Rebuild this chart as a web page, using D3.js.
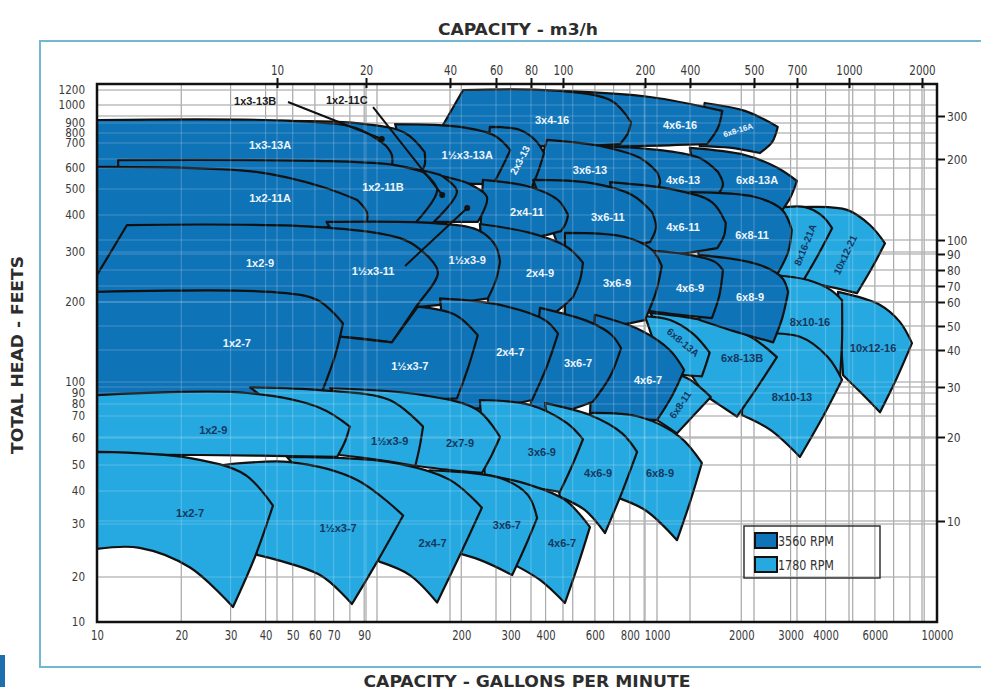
<!DOCTYPE html>
<html>
<head>
<meta charset="utf-8">
<script src="https://cdn.jsdelivr.net/npm/d3@7"></script>
<style>
  body { margin: 0; background: #fff; }
</style>
</head>
<body>
<div id="chart"></div>
<script>
// ---------- data ----------
const gpmTicks = [10, 20, 30, 40, 50, 60, 70, 90, 200, 300, 400, 600, 800, 1000, 2000, 3000, 4000, 6000, 10000];
const m3hTicks = [10, 20, 40, 60, 80, 100, 200, 400, 500, 700, 1000, 2000];
const feetTicks = [10, 20, 30, 40, 50, 60, 70, 80, 90, 100, 200, 300, 400, 500, 600, 700, 800, 900, 1000, 1200];
const meterTicks = [10, 20, 30, 40, 50, 60, 70, 80, 90, 100, 200, 300];
const speeds = [3560, 1780];

// pump models in drawing order (back to front)
const models = [
  "10x12-21", "8x16-21A", "10x12-16", "8x10-16", "8x10-13", "6x8-13B", "6x8-13A", "6x8-11",
  "6x8-16A", "4x6-16", "3x4-16",
  "6x8-13A", "4x6-13", "3x6-13", "2x3-13", "1½x3-13A", "1x3-13B", "1x3-13A",
  "6x8-11", "4x6-11", "3x6-11", "2x4-11", "1½x3-11", "1x2-11C", "1x2-11B", "1x2-11A",
  "6x8-9", "4x6-9", "3x6-9", "2x4-9", "1½x3-9", "1x2-9",
  "4x6-7", "3x6-7", "2x4-7", "1½x3-7", "1x2-7",
  "6x8-9", "4x6-9", "3x6-9", "2x7-9", "1½x3-9", "1x2-9",
  "4x6-7", "3x6-7", "2x4-7", "1½x3-7", "1x2-7"
];
const rpm = [
  1780, 1780, 1780, 1780, 1780, 1780, 1780, 1780,
  3560, 3560, 3560,
  3560, 3560, 3560, 3560, 3560, 3560, 3560,
  3560, 3560, 3560, 3560, 3560, 3560, 3560, 3560,
  3560, 3560, 3560, 3560, 3560, 3560,
  3560, 3560, 3560, 3560, 3560,
  1780, 1780, 1780, 1780, 1780, 1780,
  1780, 1780, 1780, 1780, 1780
];

// outlines: [top edge, right edge, bottom edge, optional left edge], points as [gpm, feet]
const outlines = [
  [[[3240,428],[4770,418],[5760,370],[6520,321]], [[6520,321],[5860,264],[5180,215]], [[5180,215],[4150,226],[3380,235]]],
  [[[2700,425],[3380,428],[3890,397],[4220,361]], [[4220,361],[3760,293],[3320,237]], [[3320,237],[2990,243],[2680,249]]],
  [[[4430,217],[6260,195],[7380,168],[8140,140]], [[8140,140],[7200,104],[6260,73]], [[6260,73],[5310,91],[4620,106]]],
  [[[2575,249],[3460,239],[4150,221],[4580,203]], [[4580,203],[4580,144],[4500,102]], [[4500,102],[3240,121],[2540,138]]],
  [[[2060,152],[3240,148],[4080,124],[4580,102]], [[4580,102],[3890,69],[3240,52.8]], [[3240,52.8],[2540,63.5],[2010,70.8]]],
  [[[944,182],[1570,168],[2180,147],[2680,124]], [[2680,124],[2280,95],[1930,69.7]], [[1930,69.7],[1670,79.3],[1480,88]]],
  [[[906,177],[1113,171],[1343,152],[1542,129]], [[1542,129],[1494,116],[1446,105]], [[1446,105],[1268,106],[1062,109]]],
  [[[1113,109],[1312,102],[1557,86.2]], [[1557,86.2],[1355,70.8],[1179,62]], [[1179,62],[1086,65],[1000,68]]],

  [[[1480,1025],[2060,966],[2700,860]], [[2700,860],[2580,710],[2330,658]], [[2330,658],[1820,680],[1420,687]]],
  [[[450,1186],[944,1102],[1710,966]], [[1710,966],[1650,848],[1510,696]], [[1510,696],[870,687],[450,687]]],
  [[[203,1200],[450,1186],[690,1050],[807,905]], [[807,905],[788,800],[738,696]], [[738,696],[382,687],[168,829]]],

  [[[1310,679],[2060,650],[2700,600],[3160,536]], [[3160,536],[2990,463],[2750,407]], [[2750,407],[1980,425],[1420,455]]],
  [[[626,687],[1025,670],[1420,638],[1650,580]], [[1650,580],[1720,518],[1610,463]], [[1610,463],[1025,471],[626,487]]],
  [[[405,729],[626,687],[870,638],[1000,580]], [[1000,580],[1025,527],[960,471]], [[960,471],[576,479],[358,504]]],
  [[[253,860],[324,829],[367,729],[395,658]], [[395,658],[376,580],[352,491]], [[352,491],[299,504],[243,513]]],
  [[[116,889],[198,859],[264,769],[299,670]], [[299,670],[280,604],[260,522]], [[260,522],[182,530],[131,565]]],
  [[[45,911],[91,889],[126,800],[148,662]], [[148,662],[148,611],[142,565]], [[142,565],[102,565],[45,565]]],
  [[[10,916],[49,911],[84,848],[107,691]], [[107,691],[113,650],[113,600]], [[113,600],[35,600],[10,600]]],

  [[[1310,487],[2240,467],[2800,418],[3030,356]], [[3030,356],[2940,300],[2680,249]], [[2680,249],[1980,264],[1420,277]]],
  [[[680,531],[1160,496],[1570,447],[1760,376]], [[1760,376],[1735,340],[1640,309]], [[1640,309],[1110,293],[740,293]]],
  [[[361,541],[576,527],[814,475],[960,410]], [[960,410],[992,364],[944,324]], [[944,324],[626,305],[450,305]]],
  [[[239,541],[352,509],[443,455],[481,400]], [[481,400],[473,376],[454,353]], [[454,353],[324,329],[233,329]]],
  [[[80,600],[168,560],[206,531]], [[206,531],[247,467],[229,379]], [[229,379],[142,379],[80,379]]],
  [[[68,618],[131,600],[168,565]], [[168,565],[193,491],[158,376]], [[158,376],[111,376],[68,376]]],
  [[[11.9,630],[68,626],[116,611],[146,580]], [[146,580],[164,496],[137,376]], [[137,376],[53,376],[11.9,376]]],
  [[[10,604],[37,580],[64,509],[85,455]], [[85,455],[92,410],[92,379]], [[92,379],[35,329],[10,239]]],

  [[[1420,293],[2330,270],[2800,243],[2940,217]], [[2940,217],[2800,174],[2600,141]], [[2600,141],[1820,157],[1420,171]]],
  [[[870,305],[1310,293],[1610,277],[1720,259]], [[1720,259],[1670,211],[1570,174]], [[1570,174],[1210,179],[870,187]]],
  [[[469,348],[769,337],[960,305],[1040,268]], [[1040,268],[992,217],[906,171]], [[906,171],[626,160],[469,160]]],
  [[[233,373],[352,348],[477,312],[544,275]], [[544,275],[531,239],[501,208]], [[501,208],[398,174],[253,174]]],
  [[[66,379],[154,376],[229,356],[264,317],[275,277]], [[275,277],[266,239],[249,206]], [[249,206],[168,195],[102,187]]],
  [[[12.8,370],[62.6,364],[126,329],[154,286]], [[154,286],[165,253],[137,190],[113,141]], [[113,141],[75.6,148],[10,157]], [[10,157],[10,249],[12.8,370]]],

  [[[600,179],[870,157],[1110,132],[1250,111]], [[1250,111],[1130,87],[1000,68]], [[1000,68],[740,69],[576,71]]],
  [[[382,190],[576,168],[690,150],[744,134]], [[744,134],[680,105],[590,82]], [[590,82],[450,73.2],[352,73.2]]],
  [[[168,206],[275,195],[398,171],[443,152]], [[443,152],[405,115],[358,83.5]], [[358,83.5],[253,76.6],[182,76.6]]],
  [[[140,192],[190,179],[229,150]], [[229,150],[212,114],[193,85]], [[193,85],[111,83.5],[57.6,87]], [[57.6,87],[73.8,148],[113,141],[140,192]]],
  [[[10,217],[41.5,217],[61.5,203],[75.6,166]], [[75.6,166],[70.9,126],[63.6,91]], [[63.6,91],[23.3,88],[10,88]]],

  [[[576,72.4],[870,69.5],[1209,60.4],[1446,50.7]], [[1446,50.7],[1312,36.3],[1179,26.5]], [[1179,26.5],[906,33.9],[679,38.6]]],
  [[[398,80.8],[576,70.8],[751,62],[849,54.6]], [[849,54.6],[751,39.7],[652,28]], [[652,28],[552,33.9],[450,38]]],
  [[[233,83.5],[352,79.1],[477,66.6],[544,59.5]], [[544,59.5],[497,49.6],[450,39.7]], [[450,39.7],[324,42.1],[243,44.7]]],
  [[[68,94.4],[146,88],[228,75],[275,60.4]], [[275,60.4],[257,53.5],[237,46.7]], [[237,46.7],[182,47.9],[131,50]]],
  [[[35.2,95],[64.1,92.3],[111,83.5],[146,65]], [[146,65],[142,56.5],[137,49.6]], [[137,49.6],[102,51.7],[73.8,53.5]]],
  [[[10,88],[34.3,90],[62.6,76.6],[80,65]], [[80,65],[77,58.8],[72,52.8]], [[72,52.8],[23.3,53.5],[10,53.5]]],
  [[[247,46],[352,42.1],[469,37],[576,29.3]], [[576,29.3],[522,21.9],[469,13.4]], [[469,13.4],[382,19.1],[311,21.9]]],
  [[[154,47.8],[275,44.7],[346,38.6],[373,31.6]], [[373,31.6],[338,25.2],[304,20.3]], [[304,20.3],[233,22.8],[175,24.6]]],
  [[[47.7,52.8],[111,51],[182,44],[237,34.6]], [[237,34.6],[198,23.7],[164,13.5]], [[164,13.5],[131,20.3],[102,22.5]]],
  [[[28.2,50],[48.9,51],[84.9,44],[124,32.3]], [[124,32.3],[101,22.8],[81.4,13.2]], [[81.4,13.2],[62.6,20.3],[37.3,23.7]]],
  [[[10,54.6],[21.5,52.4],[33.8,46],[42.5,35.2]], [[42.5,35.2],[36.7,23.4],[30.6,12.6]], [[30.6,12.6],[21.5,21.5],[14.2,25],[10,24.8]]]
];

// where each model name is written, [gpm, feet]
const labelAt = [
  [4694,293], [3378,317], [5909,134], [3519,168], [3034,86], [2012,123], [1239,141], [1209,79.3],
  [1947,829], [1209,879], [422,916],
  [2276,541], [1239,541], [576,590], [324,630], [210,650], [36.7,1050], [41.5,691],
  [2184,342], [1239,364], [667,393], [343,410], [96.8,257], [78,1062], [105,509], [41.5,463],
  [2148,208], [1312,224], [720,233], [382,253], [210,281], [38.2,275],
  [929,102], [522,118], [299,130], [131,115], [31.6,140],
  [1025,46.7], [616,46.7], [388,54.6], [198,58], [111,58.6], [26,63.5],
  [458,26], [291,29.8], [158,25.9], [72.6,29], [21.5,33]
];

// leader lines for the narrow models: [model, from, to]
const leaders = [
  ["1x3-13B", [48.1,1037], [104,738]],
  ["1x2-11C", [96.8,988], [171,475]],
  ["1½x3-11", [126,268], [210,425]]
];

// ---------- layout ----------
const W = 981, H = 687;
const plotL = 97, plotR = 937, plotT = 84, plotB = 622;
const headPx = [622,577,524,491,465,438,416,404,393,382,302,252,215,189,168,143,133,123,105,90,84];
const meterPx = [521,437,387,350,326,302,286,270,254,240,159,116];
const m3hPx = [277,366,450,496,531,563,645,690,754,797,849,922];
const dark = "#0f73b8", light = "#26a9e0";
const narrow = "'Liberation Sans Narrow','DejaVu Sans Condensed','Arial Narrow','DejaVu Sans',sans-serif";
const bold = "'Liberation Sans',Arial,sans-serif";
const tilt = { "2x3-13@3560": -62, "6x8-16A@3560": -17, "8x16-21A@1780": -68,
               "10x12-21@1780": -65, "6x8-13A@1780": 40, "6x8-11@1780": -56 };
const small = { "6x8-16A@3560": 8, "2x3-13@3560": 10, "8x16-21A@1780": 10, "10x12-21@1780": 10,
                "6x8-13A@1780": 10, "6x8-11@1780": 10 };

const x = d3.scaleLog().domain([10, 10000]).range([plotL, plotR]);
const y = d3.scaleLog().domain(feetTicks.concat([1280])).range(headPx);
const yM = d3.scaleLog().domain(meterTicks).range(meterPx);
const xM = d3.scaleLog().domain(m3hTicks).range(m3hPx);

const svg = d3.select("#chart").append("svg")
  .attr("width", W).attr("height", H)
  .style("font-family", narrow);

svg.append("rect").attr("width", W).attr("height", H).attr("fill", "#fff");

// outer light-blue frame
svg.append("rect")
  .attr("x", 40).attr("y", 41).attr("width", 970).attr("height", 626)
  .attr("fill", "none").attr("stroke", "#72b8d2").attr("stroke-width", 2);
svg.append("rect").attr("x", 0).attr("y", 655).attr("width", 5).attr("height", 32).attr("fill", "#1d6fae");

svg.append("clipPath").attr("id", "plotClip")
  .append("rect").attr("x", plotL).attr("y", plotT).attr("width", plotR - plotL).attr("height", plotB - plotT);

// grid
const vLines = x.ticks().filter(v => v > 10 && v < 10000).map(v => x(v)).concat(m3hTicks.map(v => xM(v)));
const hLines = feetTicks.map(v => y(v)).concat(meterTicks.map(v => yM(v)));

function drawGrid(g, color, op) {
  g.selectAll("line.v").data(vLines).join("line").attr("class", "v")
    .attr("x1", d => d).attr("x2", d => d).attr("y1", plotT).attr("y2", plotB);
  g.selectAll("line.h").data(hLines).join("line").attr("class", "h")
    .attr("x1", plotL).attr("x2", plotR).attr("y1", d => d).attr("y2", d => d);
  g.selectAll("line").attr("stroke", color).attr("stroke-opacity", op).attr("stroke-width", 1.1);
}
drawGrid(svg.append("g"), "#8f8f8f", 1);

// pump areas
const edge = d3.line().x(d => x(d[0])).y(d => y(d[1])).curve(d3.curveCatmullRom.alpha(0.5));
const straight = d3.line().x(d => x(d[0])).y(d => y(d[1]));
function outlinePath(o) {
  const parts = [edge(o[0]), edge(o[1]), edge(o[2])];
  if (o[3]) parts.push(straight(o[3]));
  return parts.map((p, i) => i ? p.replace(/^M/, "L") : p).join("") + "Z";
}

const plot = svg.append("g").attr("clip-path", "url(#plotClip)");
plot.selectAll("path.pump").data(models).join("path")
  .attr("class", "pump")
  .attr("d", (d, i) => outlinePath(outlines[i]))
  .attr("fill", (d, i) => rpm[i] === 3560 ? dark : light)
  .attr("stroke", "#111").attr("stroke-width", 2.2).attr("stroke-linejoin", "round");

// grid showing faintly through the areas
drawGrid(plot.append("g"), "#ffffff", 0.22);

// leaders
leaders.forEach(([name, from, to]) => {
  svg.append("line")
    .attr("x1", x(from[0])).attr("y1", y(from[1]))
    .attr("x2", x(to[0])).attr("y2", y(to[1]))
    .attr("stroke", "#111").attr("stroke-width", 2);
  svg.append("circle").attr("cx", x(to[0])).attr("cy", y(to[1])).attr("r", 3).attr("fill", "#111");
});

// model labels
svg.append("g").selectAll("text").data(models).join("text")
  .attr("transform", (d, i) => `translate(${x(labelAt[i][0])},${y(labelAt[i][1])}) rotate(${tilt[d + "@" + rpm[i]] || 0})`)
  .attr("text-anchor", "middle").attr("dy", "0.36em")
  .style("font-family", bold).style("font-weight", "bold")
  .attr("font-size", (d, i) => small[d + "@" + rpm[i]] || 11)
  .attr("fill", (d, i) => labelAt[i][1] >= 1000 ? "#1a1a1a" : (rpm[i] === 3560 ? "#eef5fb" : "#15375f"))
  .text(d => d);

// plot frame
svg.append("rect")
  .attr("x", plotL).attr("y", plotT).attr("width", plotR - plotL).attr("height", plotB - plotT)
  .attr("fill", "none").attr("stroke", "#111").attr("stroke-width", 2.5);

// axes: condensed look by squeezing each label to a fixed width per character
const squeeze = (g, size, perChar) => g.selectAll("text")
  .attr("font-size", size).attr("fill", "#3a3a3a").style("font-family", narrow)
  .attr("textLength", function () { return this.textContent.length * perChar; })
  .attr("lengthAdjust", "spacingAndGlyphs");

svg.append("g").attr("transform", `translate(0,${plotB})`)
  .call(d3.axisBottom(x).tickValues(gpmTicks).tickFormat(d3.format("d")).tickSize(0).tickPadding(8))
  .call(g => g.select(".domain").remove())
  .call(g => squeeze(g, 14.5, 6.4));

svg.append("g").attr("transform", `translate(${plotL},0)`)
  .call(d3.axisLeft(y).tickValues(feetTicks).tickFormat(d3.format("d")).tickSize(0).tickPadding(12))
  .call(g => g.select(".domain").remove())
  .call(g => squeeze(g, 12, 6.6));

svg.append("g").attr("transform", `translate(0,${plotT})`)
  .call(d3.axisTop(xM).tickValues(m3hTicks).tickFormat(d3.format("d")).tickSize(6).tickPadding(3))
  .call(g => g.select(".domain").remove())
  .call(g => g.selectAll("line").attr("y1", 4).attr("stroke", "#111").attr("stroke-width", 2))
  .call(g => squeeze(g, 14.5, 6.6));

svg.append("g").attr("transform", `translate(${plotR},0)`)
  .call(d3.axisRight(yM).tickValues(meterTicks).tickFormat(d3.format("d")).tickSize(8).tickPadding(2))
  .call(g => g.select(".domain").remove())
  .call(g => g.selectAll("line").attr("stroke", "#111").attr("stroke-width", 2))
  .call(g => squeeze(g, 13, 6.8));

// legend
const legend = svg.append("g").attr("transform", "translate(744,526)");
legend.append("rect").attr("width", 136).attr("height", 52)
  .attr("fill", "none").attr("stroke", "#333").attr("stroke-width", 1.5);
speeds.forEach((s, i) => {
  legend.append("rect").attr("x", 11).attr("y", 7 + i * 24).attr("width", 22).attr("height", 15)
    .attr("fill", s === 3560 ? dark : light).attr("stroke", "#111").attr("stroke-width", 2);
  legend.append("text").attr("x", 34).attr("y", 20 + i * 24)
    .attr("font-size", 14).attr("fill", "#333")
    .attr("textLength", 56).attr("lengthAdjust", "spacingAndGlyphs")
    .text(`${s} RPM`);
});

// titles
svg.append("text").attr("x", 518).attr("y", 35).attr("text-anchor", "middle")
  .attr("font-size", 16).style("font-weight", "bold").attr("fill", "#2d2d2d")
  .attr("textLength", 160).attr("lengthAdjust", "spacingAndGlyphs")
  .text("CAPACITY - m3/h");
svg.append("text").attr("transform", "translate(23,355) rotate(-90)").attr("text-anchor", "middle")
  .attr("font-size", 15).style("font-weight", "bold").attr("fill", "#2d2d2d")
  .attr("textLength", 198).attr("lengthAdjust", "spacingAndGlyphs")
  .text("TOTAL HEAD - FEETS");
svg.append("text").attr("x", 527).attr("y", 687).attr("text-anchor", "middle")
  .attr("font-size", 16).style("font-weight", "bold").attr("fill", "#2d2d2d")
  .attr("textLength", 327).attr("lengthAdjust", "spacingAndGlyphs")
  .text("CAPACITY - GALLONS PER MINUTE");
</script>
</body>
</html>
